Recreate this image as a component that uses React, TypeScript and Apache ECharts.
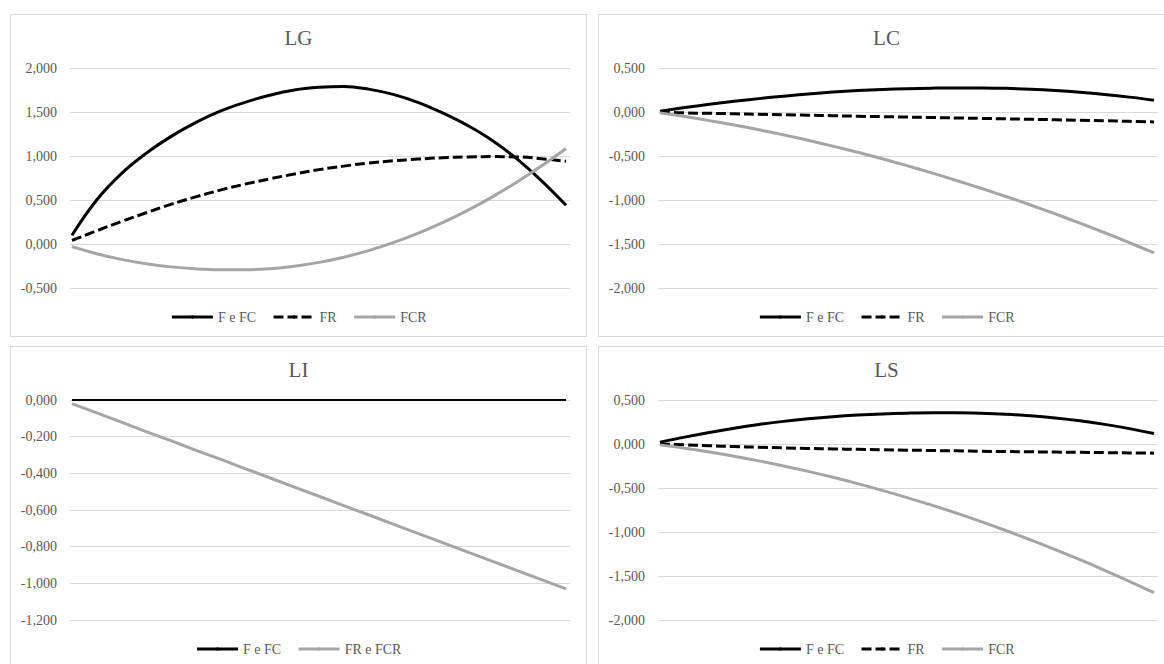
import React, { useEffect, useRef } from "react";
import * as echarts from "echarts";

// x positions (sample index along the horizontal axis)
const xIndex = [0, 1, 2, 3, 4, 5, 6, 7, 8, 9, 10, 11, 12, 13, 14, 15, 16, 17, 18, 19, 20];

// LG
const lgFeFC = [0.10, 0.50, 0.80, 1.03, 1.22, 1.38, 1.51, 1.61, 1.69, 1.75, 1.78, 1.79, 1.76, 1.70, 1.61, 1.49, 1.35, 1.18, 0.97, 0.72, 0.44];
const lgFR = [0.04, 0.15, 0.255, 0.355, 0.45, 0.535, 0.612, 0.68, 0.74, 0.795, 0.845, 0.885, 0.92, 0.945, 0.965, 0.98, 0.99, 0.993, 0.99, 0.97, 0.94];
const lgFCR = [-0.03, -0.11, -0.175, -0.225, -0.26, -0.282, -0.292, -0.292, -0.28, -0.252, -0.209, -0.15, -0.075, 0.015, 0.121, 0.243, 0.38, 0.533, 0.702, 0.886, 1.086];

// LC
const lcFeFC = [0.01, 0.05, 0.087, 0.121, 0.152, 0.18, 0.205, 0.226, 0.243, 0.256, 0.265, 0.271, 0.274, 0.274, 0.269, 0.259, 0.244, 0.224, 0.199, 0.169, 0.134];
const lcFR = [0.0, -0.01, -0.015, -0.02, -0.026, -0.031, -0.037, -0.042, -0.048, -0.053, -0.058, -0.063, -0.068, -0.073, -0.078, -0.083, -0.088, -0.094, -0.10, -0.106, -0.113];
const lcFCR = [-0.01, -0.052, -0.098, -0.148, -0.202, -0.26, -0.322, -0.388, -0.458, -0.532, -0.61, -0.692, -0.778, -0.867, -0.96, -1.057, -1.158, -1.263, -1.372, -1.485, -1.602];

// LI
const liFeFC = [0, 0, 0, 0, 0, 0, 0, 0, 0, 0, 0, 0, 0, 0, 0, 0, 0, 0, 0, 0, 0];
const liFReFCR = [-0.02, -0.07, -0.121, -0.172, -0.222, -0.273, -0.323, -0.374, -0.424, -0.475, -0.525, -0.576, -0.626, -0.677, -0.727, -0.778, -0.828, -0.879, -0.929, -0.98, -1.03];

// LS
const lsFeFC = [0.02, 0.078, 0.131, 0.179, 0.221, 0.257, 0.287, 0.311, 0.329, 0.342, 0.35, 0.354, 0.354, 0.349, 0.338, 0.32, 0.295, 0.263, 0.223, 0.175, 0.119];
const lsFR = [0.0, -0.01, -0.02, -0.029, -0.037, -0.044, -0.05, -0.056, -0.061, -0.066, -0.07, -0.074, -0.078, -0.082, -0.086, -0.089, -0.092, -0.095, -0.098, -0.101, -0.104];
const lsFCR = [-0.01, -0.048, -0.091, -0.139, -0.192, -0.249, -0.311, -0.378, -0.45, -0.527, -0.609, -0.695, -0.786, -0.882, -0.983, -1.089, -1.2, -1.315, -1.435, -1.56, -1.69];

const FONT = "Liberation Serif";
const TEXT = "#595959";
const BLACK = "#000000";
const GRAY = "#a5a5a5";

type Kind = "solid" | "dashed" | "gray";

function mkSeries(name: string, values: number[], kind: Kind, width = 3, smooth: number | boolean = 0.4) {
  const color = kind === "gray" ? GRAY : BLACK;
  return {
    type: "line",
    name,
    data: values.map((v, i) => [xIndex[i], v]),
    smooth,
    symbol: "none",
    color,
    itemStyle: { color, borderWidth: 0 },
    lineStyle: {
      color,
      width,
      type: kind === "dashed" ? [10, 4] : "solid",
      cap: "butt",
    },
    emphasis: { disabled: true },
  };
}

function fmt(v: number) {
  return v.toFixed(3).replace(".", ",");
}

function mkOption(title: string, min: number, max: number, interval: number, legendNames: string[], series: any[]) {
  return {
    animation: false,
    backgroundColor: "transparent",
    textStyle: { fontFamily: FONT },
    title: {
      text: title,
      left: "center",
      top: 13,
      padding: 0,
      textStyle: { fontFamily: FONT, fontSize: 21, fontWeight: "normal", color: TEXT },
    },
    legend: {
      data: legendNames,
      left: "center",
      top: 296,
      padding: 0,
      itemWidth: 41,
      itemHeight: 4,
      itemGap: 16,
      lineStyle: { width: 3 },
      itemStyle: { borderWidth: 0 },
      textStyle: { fontFamily: FONT, fontSize: 14, color: TEXT },
    },
    grid: { left: 60, top: 54, width: 500, height: 220, containLabel: false },
    xAxis: {
      type: "value",
      min: -0.08,
      max: 20.16,
      show: false,
    },
    yAxis: {
      type: "value",
      min,
      max,
      interval,
      axisLine: { show: false },
      axisTick: { show: false },
      splitLine: { show: true, lineStyle: { color: "#d9d9d9", width: 1 } },
      axisLabel: {
        formatter: (v: number) => fmt(v),
        fontFamily: FONT,
        fontSize: 14,
        color: TEXT,
        margin: 13,
      },
    },
    series,
  };
}

const panels = [
  {
    left: 10,
    top: 14,
    option: mkOption("LG", -0.5, 2.0, 0.5, ["F e FC", "FR", "FCR"], [
      mkSeries("F e FC", lgFeFC, "solid"),
      mkSeries("FR", lgFR, "dashed"),
      mkSeries("FCR", lgFCR, "gray"),
    ]),
  },
  {
    left: 598,
    top: 14,
    option: mkOption("LC", -2.0, 0.5, 0.5, ["F e FC", "FR", "FCR"], [
      mkSeries("F e FC", lcFeFC, "solid"),
      mkSeries("FR", lcFR, "dashed"),
      mkSeries("FCR", lcFCR, "gray"),
    ]),
  },
  {
    left: 10,
    top: 346,
    option: mkOption("LI", -1.2, 0, 0.2, ["F e FC", "FR e FCR"], [
      mkSeries("F e FC", liFeFC, "solid", 2, false),
      mkSeries("FR e FCR", liFReFCR, "gray", 3, false),
    ]),
  },
  {
    left: 598,
    top: 346,
    option: mkOption("LS", -2.0, 0.5, 0.5, ["F e FC", "FR", "FCR"], [
      mkSeries("F e FC", lsFeFC, "solid"),
      mkSeries("FR", lsFR, "dashed"),
      mkSeries("FCR", lsFCR, "gray"),
    ]),
  },
];

function Panel({ left, top, option }: { left: number; top: number; option: any }) {
  const ref = useRef<HTMLDivElement>(null);
  useEffect(() => {
    if (!ref.current) return;
    const chart = echarts.init(ref.current, undefined, { renderer: "svg" });
    chart.setOption(option);
    return () => chart.dispose();
  }, [option]);
  return (
    <div
      style={{
        position: "absolute",
        left,
        top,
        width: 577,
        height: 323,
        boxSizing: "border-box",
        border: "1px solid #d9d9d9",
        background: "#fff",
      }}
    >
      <div ref={ref} style={{ position: "absolute", left: -1, top: -1, width: 577, height: 323 }} />
    </div>
  );
}

export default function App() {
  return (
    <div
      style={{
        position: "absolute",
        left: 0,
        top: 0,
        width: 1164,
        height: 664,
        overflow: "hidden",
        background: "#ffffff",
      }}
    >
      {panels.map((p, i) => (
        <Panel key={i} left={p.left} top={p.top} option={p.option} />
      ))}
    </div>
  );
}
